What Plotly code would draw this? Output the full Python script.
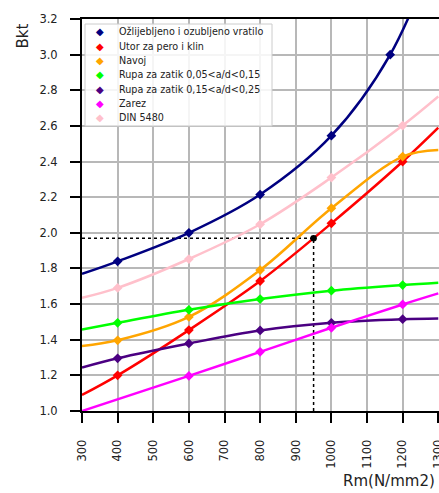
import plotly.graph_objects as go

# ---- data ----
series_names = [
    "Ožlijebljeno i ozubljeno vratilo",
    "Utor za pero i klin",
    "Navoj",
    "Rupa za zatik 0,05<a/d<0,15",
    "Rupa za zatik 0,15<a/d<0,25",
    "Zarez",
    "DIN 5480",
]
series_colors = ["#000080", "#ff0000", "#ffa500", "#00ff00", "#4b0082", "#ff00ff", "#ffc0cb"]

# curve points (x, y) for the smooth lines
navy_x = [300, 400, 600, 800, 1000, 1165, 1300]
navy_y = [1.77, 1.84, 2.00, 2.215, 2.545, 3.00, 3.62]
red_x = [300, 400, 600, 800, 1000, 1200, 1300]
red_y = [1.09, 1.20, 1.454, 1.729, 2.053, 2.40, 2.59]
orange_x = [300, 400, 600, 800, 1000, 1200, 1300]
orange_y = [1.365, 1.397, 1.528, 1.791, 2.138, 2.428, 2.465]
green_x = [300, 400, 600, 800, 1000, 1200, 1300]
green_y = [1.457, 1.495, 1.568, 1.628, 1.675, 1.707, 1.72]
purple_x = [300, 400, 600, 800, 1000, 1200, 1300]
purple_y = [1.244, 1.296, 1.379, 1.452, 1.495, 1.515, 1.519]
magenta_x = [300, 600, 800, 1000, 1200, 1300]
magenta_y = [1.0, 1.197, 1.332, 1.467, 1.598, 1.66]
pink_x = [300, 400, 600, 800, 1000, 1200, 1300]
pink_y = [1.635, 1.691, 1.853, 2.048, 2.31, 2.602, 2.765]

# which points carry a diamond marker (endpoints do not)
navy_marked = [False, True, True, True, True, True, False]
red_marked = [False, True, True, True, True, True, False]
orange_marked = [False, True, True, True, True, True, False]
green_marked = [False, True, True, True, True, True, False]
purple_marked = [False, True, True, True, True, True, False]
magenta_marked = [False, True, True, True, True, False]
pink_marked = [False, True, True, True, True, True, False]

# read-off point
read_rm = 950
read_bkt = 1.97

x_ticks = [300, 400, 500, 600, 700, 800, 900, 1000, 1100, 1200, 1300]
y_ticks = [1.0, 1.2, 1.4, 1.6, 1.8, 2.0, 2.2, 2.4, 2.6, 2.8, 3.0, 3.2]
x_range = [300, 1302]
y_range = [1.0, 3.2]

series = [
    (navy_x, navy_y, navy_marked),
    (red_x, red_y, red_marked),
    (orange_x, orange_y, orange_marked),
    (green_x, green_y, green_marked),
    (purple_x, purple_y, purple_marked),
    (magenta_x, magenta_y, magenta_marked),
    (pink_x, pink_y, pink_marked),
]

FONT = "DejaVu Sans"
W, H = 439, 493
ML, MR, MT, MB = 82, 0, 19, 82
PW, PH = W - ML - MR, H - MT - MB


def px2paper(px, py):
    return (px - ML) / PW, (H - MB - py) / PH


fig = go.Figure()

# dotted read-off lines
fig.add_trace(go.Scatter(x=[x_range[0], read_rm], y=[read_bkt, read_bkt], mode="lines",
                         line=dict(color="black", width=1.5, dash="dot"), showlegend=False,
                         hoverinfo="skip"))
fig.add_trace(go.Scatter(x=[read_rm, read_rm], y=[y_range[0], read_bkt], mode="lines",
                         line=dict(color="black", width=1.5, dash="dot"), showlegend=False,
                         hoverinfo="skip"))

for name, color, (xs, ys, marked) in zip(series_names, series_colors, series):
    fig.add_trace(go.Scatter(x=xs, y=ys, mode="lines", line=dict(color=color, width=2.5, shape="spline"),
                             showlegend=False, hoverinfo="skip"))
for name, color, (xs, ys, marked) in zip(series_names, series_colors, series):
    mx = [x for x, m in zip(xs, marked) if m]
    my = [y for y, m in zip(ys, marked) if m]
    fig.add_trace(go.Scatter(x=mx, y=my, mode="markers", name=name, showlegend=False,
                             marker=dict(symbol="diamond", size=7.5, color=color)))

fig.add_trace(go.Scatter(x=[read_rm], y=[read_bkt], mode="markers",
                         marker=dict(color="black", size=6.5), showlegend=False))

# ---- legend (drawn as a framed box, matching the original compact layout) ----
bx0, by1 = px2paper(85, 24)
bx1, by0 = px2paper(272, 126)
fig.add_shape(type="rect", xref="paper", yref="paper", x0=bx0, x1=bx1, y0=by0, y1=by1,
              line=dict(color="#cccccc", width=1), fillcolor="rgba(255,255,255,0.85)",
              layer="above")
row0, row_step = 31.7, 14.33
for i, (name, color) in enumerate(zip(series_names, series_colors)):
    cy = row0 + i * row_step
    mxp, myp = px2paper(100, cy)
    txp, _ = px2paper(117, cy)
    fig.add_annotation(text="◆", xref="paper", yref="paper", x=mxp, y=myp,
                       xanchor="center", yanchor="middle", showarrow=False,
                       font=dict(size=10, family=FONT, color=color))
    fig.add_annotation(text=name.replace("<", "&lt;"), xref="paper", yref="paper", x=txp, y=myp,
                       xanchor="left", yanchor="middle", showarrow=False,
                       font=dict(size=9.6, family=FONT, color="#222"))

fig.update_layout(
    width=W, height=H,
    margin=dict(l=ML, r=MR, t=MT, b=MB, autoexpand=False),
    paper_bgcolor="white", plot_bgcolor="white",
    font=dict(family=FONT, size=11.5, color="#222"),
    showlegend=False,
)
fig.update_xaxes(range=x_range, tickvals=x_ticks, ticktext=[str(v) for v in x_ticks],
                 tickangle=-90, showgrid=True, gridcolor="#b8b8b8", gridwidth=2,
                 showline=True, linecolor="black", linewidth=2, mirror=True,
                 ticks="outside", ticklen=10, tickwidth=2, tickcolor="black",
                 ticklabelstandoff=12, ticklabeloverflow="allow", automargin=False,
                 zeroline=False)
fig.update_yaxes(range=y_range, tickvals=y_ticks, ticktext=[f"{v:.1f}" for v in y_ticks],
                 showgrid=True, gridcolor="#b8b8b8", gridwidth=2,
                 showline=True, linecolor="black", linewidth=2, mirror=False,
                 ticks="outside", ticklen=10, tickwidth=2, tickcolor="black",
                 ticklabelstandoff=10, automargin=False, zeroline=False)

tx, ty = px2paper(11, 22)
fig.add_annotation(text="Bkt", xref="paper", yref="paper", x=tx, y=ty,
                   xanchor="left", yanchor="top", textangle=-90, showarrow=False,
                   font=dict(size=15, family=FONT, color="#222"))
rx, ry = px2paper(437, 492)
fig.add_annotation(text="Rm(N/mm2)", xref="paper", yref="paper", x=rx, y=ry,
                   xanchor="right", yanchor="bottom", showarrow=False,
                   font=dict(size=15, family=FONT, color="#222"))

fig.write_html("out.html", config={"displayModeBar": False},
               post_script="document.body.style.margin='0';document.body.style.overflow='hidden';")
